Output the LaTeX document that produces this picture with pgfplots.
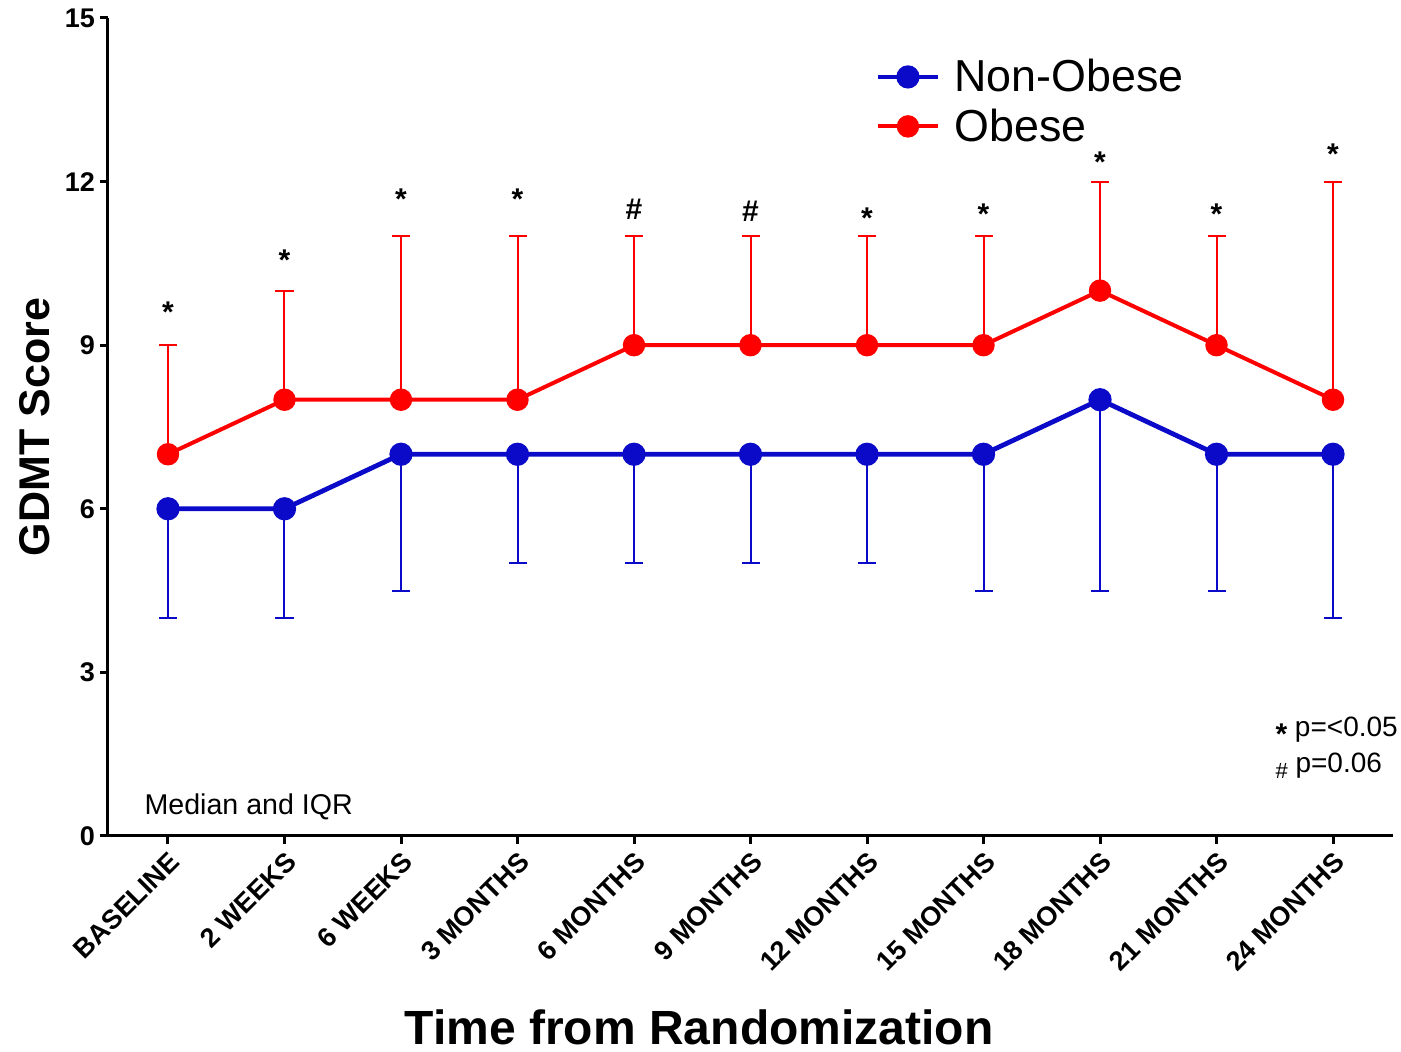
\documentclass[border=0pt]{standalone}
\usepackage{fontspec}
\setmainfont{Liberation Sans}
\usepackage{pgfplots}
\usepackage{pgfplotstable}
\pgfplotsset{compat=1.18}
\definecolor{nonobeseblue}{RGB}{10,10,200}
\definecolor{obesered}{RGB}{255,0,0}

% median with IQR whisker (lower whisker for non-obese, upper for obese)
\pgfplotstableread{
x y e
0 6 2
1 6 2
2 7 2.5
3 7 2
4 7 2
5 7 2
6 7 2
7 7 2.5
8 8 3.5
9 7 2.5
10 7 3
}\nonobesetab
\pgfplotstableread{
x y e
0 7 2
1 8 2
2 8 3
3 8 3
4 9 2
5 9 2
6 9 2
7 9 2
8 10 2
9 9 2
10 8 4
}\obesetab
% significance markers
\pgfplotstableread{
x y s
0 9.6 *
1 10.56 *
2 11.68 *
3 11.68 *
4 11.5 \#
5 11.45 \#
6 11.33 *
7 11.4 *
8 12.36 *
9 11.4 *
10 12.51 *
}\sigtab

\begin{document}
\begin{tikzpicture}
\begin{axis}[
    scale only axis,
    width=642.5pt, height=409pt,
    xmin=-0.515, xmax=10.515,
    ymin=0, ymax=15,
    axis lines*=left,
    axis line style={line width=1.5pt},
    ytick={0,3,...,15},
    xtick={0,...,10},
    xticklabels={BASELINE,2 WEEKS,6 WEEKS,3 MONTHS,6 MONTHS,9 MONTHS,12 MONTHS,15 MONTHS,18 MONTHS,21 MONTHS,24 MONTHS},
    tick align=outside,
    major tick length=4pt,
    tick style={line width=1.5pt, black},
    /pgf/number format/assume math mode=true,
    yticklabel style={font=\bfseries\fontsize{13.5}{15}\selectfont, xshift=1pt},
    xticklabel style={font=\bfseries\fontsize{13.5}{15}\selectfont, rotate=45, anchor=north east, inner sep=2pt},
    xlabel={Time from Randomization},
    ylabel={GDMT Score},
    xlabel style={font=\bfseries\fontsize{24}{28}\selectfont, inner sep=0pt, at={(axis description cs:0.46,-0.2335)}, anchor=center},
    ylabel style={font=\bfseries\fontsize{21.5}{26}\selectfont, inner sep=0pt, at={(axis description cs:-0.0568,0.5)}, anchor=center},
    clip=false,
    legend style={draw=none, fill=none, font=\fontsize{22.4}{26}\selectfont,
      at={(axis description cs:0.597,0.955)}, anchor=north west, inner sep=0pt,
      row sep=3pt, nodes={inner xsep=7pt}},
    legend cell align=left,
    legend image code/.code={%
      \draw[mark repeat=2, mark phase=2] plot coordinates {(0pt,0pt) (15pt,0pt) (30pt,0pt)};},
]
\addplot[nonobeseblue, line width=2.4pt, mark=*, mark size=4.6pt,
  error bars/.cd, y dir=minus, y explicit, error mark=|,
  error bar style={line width=1pt, nonobeseblue},
  error mark options={mark size=4.5pt, line width=1pt, nonobeseblue}]
  table[x=x, y=y, y error=e] {\nonobesetab};
\addlegendentry{Non-Obese}
\addplot[obesered, line width=2pt, mark=*, mark size=4.6pt,
  error bars/.cd, y dir=plus, y explicit, error mark=|,
  error bar style={line width=1pt, obesered},
  error mark options={mark size=4.5pt, line width=1pt, obesered}]
  table[x=x, y=y, y error=e] {\obesetab};
\addlegendentry{Obese}
\addplot[draw=none, mark=none, forget plot,
  nodes near coords, point meta=explicit symbolic,
  every node near coord/.style={anchor=center, font=\bfseries\fontsize{15}{16}\selectfont, black}]
  table[x=x, y=y, meta=s] {\sigtab};
\node[anchor=south west, font=\fontsize{14.3}{16}\selectfont] at (axis description cs:0.023,0.011) {Median and IQR};
\node[anchor=east, font=\fontsize{14}{16}\selectfont, align=left, inner sep=0pt] at (axis description cs:1.004,0.108)
  {\raisebox{-4pt}{\bfseries\fontsize{15}{16}\selectfont *} p=<0.05\\[2pt]
   \raisebox{-3pt}{\fontsize{11}{12}\selectfont\#} p=0.06};
\end{axis}
\pgfresetboundingbox
\path ([xshift=-54pt,yshift=-108pt]current axis.south west) rectangle ([xshift=4pt,yshift=9pt]current axis.north east);
\end{tikzpicture}
\end{document}
